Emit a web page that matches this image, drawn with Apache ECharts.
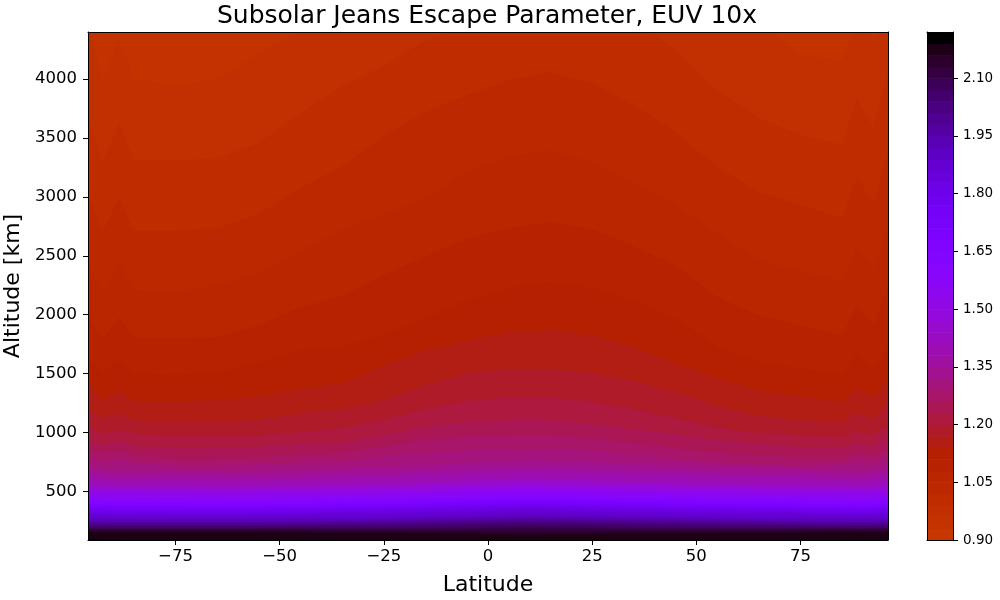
<!DOCTYPE html>
<html><head><meta charset="utf-8">
<script src="https://cdn.jsdelivr.net/npm/echarts@6/dist/echarts.min.js"></script>
<style>html,body{margin:0;padding:0;background:#fff}#c{width:1000px;height:600px}</style>
</head><body><div id="c"></div>
<script>
const titleText = 'Subsolar Jeans Escape Parameter, EUV 10x';
const xTicks = [-75,-50,-25,0,25,50,75];
const yTicks = [500,1000,1500,2000,2500,3000,3500,4000];
const barTicks = [0.90,1.05,1.20,1.35,1.50,1.65,1.80,1.95,2.10];
const levels = [0.90,0.93,0.96,0.99,1.02,1.05,1.08,1.11,1.14,1.17,1.20,1.23,1.26,1.29,1.32,1.35,1.38,1.41,1.44,1.47,1.50,1.53,1.56,1.59,1.62,1.65,1.68,1.71,1.74,1.77,1.80,1.83,1.86,1.89,1.92,1.95,1.98,2.01,2.04,2.07,2.10,2.13,2.16,2.19,2.22];

// latitude knots of the upper contours
const latsHigh = [-96,-92.5,-88.5,-85,-75,-65,-55,-45,-35,-25,-15,-5,5,15,25,35,45,55,65,75,85,88.5,92.5,96];
// altitude [km] of each contour level at latsHigh
const c096 = [4433,3992,4331,4008,3941,4000,4212,4416,4569,4671,4756,4798,4841,4841,4824,4756,4671,4586,4484,4204,4161,4484,4348,4484];
const c099 = [3669,3295,3626,3312,3312,3329,3457,3711,3941,4110,4331,4458,4569,4628,4628,4518,4246,3907,3669,3525,3440,3839,3584,4051];
const c102 = [2998,2701,2990,2710,2710,2735,2854,3075,3261,3516,3720,3864,3992,4059,3966,3779,3550,3253,3041,2930,2820,3168,2947,3372];
const c105 = [2438,2192,2446,2209,2192,2251,2353,2540,2718,2845,2990,3210,3338,3397,3295,3125,2930,2693,2463,2378,2276,2574,2378,2743];
const c108 = [1979,1793,1979,1801,1801,1810,1911,2064,2158,2336,2497,2642,2735,2786,2726,2582,2421,2149,1996,1903,1827,2081,1911,2234];
const c111 = [1640,1504,1631,1504,1487,1512,1597,1699,1733,1827,1971,2124,2226,2276,2226,2124,1971,1725,1597,1546,1487,1674,1555,1725];
const c114 = [1419,1275,1360,1266,1266,1275,1309,1377,1419,1572,1699,1784,1852,1869,1827,1725,1589,1462,1360,1309,1258,1377,1300,1470];
const c117 = [1190,1122,1164,1105,1088,1088,1113,1164,1198,1275,1402,1504,1538,1538,1504,1436,1343,1224,1139,1105,1088,1164,1122,1249];
const c120 = [1045,994,1020,986,969,969,978,1003,1037,1105,1198,1266,1300,1300,1258,1198,1122,1045,994,978,961,1003,978,1062];
const c123 = [935,893,918,884,867,867,876,901,910,978,1045,1088,1105,1105,1071,1028,986,935,901,876,876,901,884,952];
const c126 = [867,825,842,808,782,782,791,816,833,884,935,969,978,978,952,910,867,833,808,791,791,825,808,867];
const c129 = [782,748,774,740,723,723,731,748,757,799,825,850,859,859,842,808,774,748,731,723,731,765,748,791];

// latitude knots of the lower contours
const latsLow = [-96,-90,-60,-25,10,45,90,96];
const c132 = [700,680,672,705,765,720,678,710];
const c135 = [655,635,629,655,706,668,634,660];
const c138 = [615,600,595,618,663,630,598,620];
const c141 = [565,555,550,570,609,580,552,570];
const c144 = [545,535,533,550,584,558,535,548];
const c147 = [520,512,508,528,567,538,510,522];
const c150 = [502,494,491,508,541,516,493,504];
const c153 = [484,477,474,491,524,499,476,486];
const c156 = [458,452,448,469,508,478,450,460];
const c159 = [440,434,431,448,482,456,433,442];
const c162 = [422,417,414,431,465,439,416,425];
const c165 = [405,400,397,414,448,422,399,408];
const c168 = [388,383,380,397,431,405,382,390];
const c171 = [375,371,368,385,419,393,370,377];
const c174 = [362,358,356,370,399,377,357,364];
const c177 = [350,346,344,358,387,365,345,352];
const c180 = [338,334,332,346,375,353,333,340];
const c183 = [320,317,315,329,358,336,316,322];
const c186 = [303,300,298,312,341,319,299,305];
const c189 = [277,274,273,284,307,290,273,279];
const c192 = [260,257,256,267,290,273,256,262];
const c195 = [243,240,239,250,273,256,239,245];
const c198 = [234,231,230,241,264,247,230,236];
const c201 = [217,214,213,224,247,230,213,219];
const c204 = [208,206,205,213,230,217,205,210];
const c207 = [190,188,188,193,205,196,188,192];
const c210 = [181,180,180,183,188,184,180,182];
const c213 = [172,171,171,168,162,166,171,171];
const c216 = [155,154,154,148,137,145,154,154];
const c219 = [94,90,80,78,75,78,80,80];

const highContours = [c096,c099,c102,c105,c108,c111,c114,c117,c120,c123,c126,c129];
const lowContours = [c132,c135,c138,c141,c144,c147,c150,c153,c156,c159,c162,c165,c168,c171,c174,c177,c180,c183,c186,c189,c192,c195,c198,c201,c204,c207,c210,c213,c216,c219];

// palette: lower part of the "gnuplot" colormap, one colour per band
const nBands = levels.length - 1;
function bandColor(i){
  const x = 0.6 * (nBands - 1 - i) / (nBands - 1);
  const r = Math.sqrt(x), g = x*x*x, b = Math.max(0, Math.sin(2*Math.PI*x));
  return 'rgb(' + [r,g,b].map(v => Math.round(v*255)).join(',') + ')';
}

const font = 'DejaVu Sans';
const X0 = 88, X1 = 888, Y0 = 32, Y1 = 540;
const latMin = -96, latMax = 96, altMin = 87, altMax = 4400;
const grids = [
  {left:X0, top:Y0, width:X1-X0, height:Y1-Y0, show:true, backgroundColor:bandColor(1), borderWidth:0, outerBoundsMode:'none', containLabel:false},
  {left:927, top:Y0, width:26, height:Y1-Y0, show:false, outerBoundsMode:'none', containLabel:false}
];
const line = {show:true, lineStyle:{color:'#000', width:1}};
const hidden = {show:false};
const xAxes = [
  {type:'value', gridIndex:0, min:latMin, max:latMax, position:'bottom', z:10,
   name:'Latitude', nameLocation:'middle', nameGap:34, nameTextStyle:{fontFamily:font, fontSize:22, color:'#000'},
   axisLine:{...line, onZero:false}, splitLine:hidden,
   axisTick:{show:true, length:5, lineStyle:{color:'#000'}, customValues:xTicks},
   axisLabel:{show:true, fontFamily:font, fontSize:16.5, color:'#000', margin:8, customValues:xTicks,
     formatter:v => String(v).replace('-', '\u2212')}},
  {type:'value', gridIndex:0, min:latMin, max:latMax, position:'top', z:10,
   axisLine:{...line, onZero:false}, splitLine:hidden, axisTick:hidden, axisLabel:hidden},
  {type:'value', gridIndex:1, min:0, max:1, position:'bottom', z:10,
   axisLine:{...line, onZero:false}, splitLine:hidden, axisTick:hidden, axisLabel:hidden},
  {type:'value', gridIndex:1, min:0, max:1, position:'top', z:10,
   axisLine:{...line, onZero:false}, splitLine:hidden, axisTick:hidden, axisLabel:hidden}
];
const yAxes = [
  {type:'value', gridIndex:0, min:altMin, max:altMax, position:'left', z:10,
   name:'Altitude [km]', nameLocation:'middle', nameGap:62, nameTextStyle:{fontFamily:font, fontSize:22, color:'#000'},
   axisLine:{...line, onZero:false}, splitLine:hidden,
   axisTick:{show:true, length:5, lineStyle:{color:'#000'}, customValues:yTicks},
   axisLabel:{show:true, fontFamily:font, fontSize:16.5, color:'#000', margin:11, padding:[2,0,0,0], customValues:yTicks, formatter:v => String(v)}},
  {type:'value', gridIndex:0, min:altMin, max:altMax, position:'right', z:10,
   axisLine:{...line, onZero:false}, splitLine:hidden, axisTick:hidden, axisLabel:hidden},
  {type:'value', gridIndex:1, min:levels[0], max:levels[nBands], position:'left', z:10,
   axisLine:{...line, onZero:false}, splitLine:hidden, axisTick:hidden, axisLabel:hidden},
  {type:'value', gridIndex:1, min:levels[0], max:levels[nBands], position:'right', z:10,
   axisLine:{...line, onZero:false}, splitLine:hidden,
   axisTick:{show:true, length:5, lineStyle:{color:'#000'}, customValues:barTicks},
   axisLabel:{show:true, fontFamily:font, fontSize:13.5, color:'#000', margin:10, padding:[2,0,0,0], customValues:barTicks,
     formatter:v => v.toFixed(2)}}
];
const series = [];
function addContour(lats, alts, band){
  series.push({type:'line', xAxisIndex:0, yAxisIndex:0, silent:true, animation:false,
    showSymbol:false, symbol:'none', clip:true, smooth:false,
    lineStyle:{width:0}, areaStyle:{origin:'start', color:bandColor(band), opacity:1},
    data:lats.map((lat,i) => [lat, alts[i]])});
}
highContours.forEach((alts,i) => addContour(latsHigh, alts, i+2));
lowContours.forEach((alts,i) => addContour(latsLow, alts, i+2+highContours.length));
series.push({type:'custom', xAxisIndex:2, yAxisIndex:2, silent:true, animation:false, clip:true,
  data:levels.slice(0,-1).map((lo,i) => [lo, levels[i+1], i]),
  encode:{x:[], y:[0,1]},
  renderItem:(params, api) => {
    const a = api.coord([0, api.value(0)]), b = api.coord([1, api.value(1)]);
    return {type:'rect', shape:{x:a[0], y:b[1], width:b[0]-a[0], height:a[1]-b[1]+0.6},
      style:{fill:bandColor(api.value(2))}};
  }});
const chart = echarts.init(document.getElementById('c'), null, {renderer:'canvas'});
chart.setOption({
  animation:false, backgroundColor:'#fff',
  title:{text:titleText, left:482, top:-1, textAlign:'center',
    textStyle:{fontFamily:font, fontSize:25, fontWeight:'normal', color:'#000'}},
  grid:grids, xAxis:xAxes, yAxis:yAxes, series
});
</script></body></html>
